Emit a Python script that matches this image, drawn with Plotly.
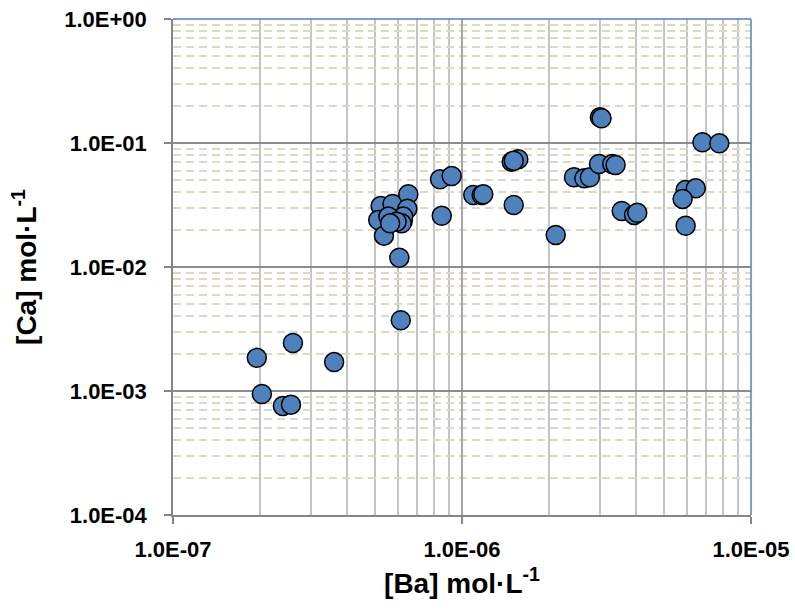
import plotly.graph_objects as go

# [Ba] mol/L
ba = [
    1.95e-7, 2.03e-7, 2.60e-7, 3.61e-7, 2.40e-7, 2.56e-7,
    5.23e-7, 5.75e-7, 6.52e-7, 6.47e-7, 5.13e-7, 5.82e-7, 6.24e-7, 5.37e-7,
    6.26e-7, 6.18e-7, 5.56e-7, 5.94e-7, 5.64e-7,
    6.07e-7, 6.14e-7, 8.39e-7, 9.21e-7, 8.51e-7,
    3.00e-6, 3.04e-6, 6.79e-6, 7.77e-6,
    1.486e-6, 1.566e-6, 1.51e-6,
    1.094e-6, 1.17e-6, 1.185e-6, 1.51e-6, 2.11e-6,
    2.44e-6, 2.65e-6, 2.77e-6, 2.98e-6, 3.31e-6, 3.40e-6,
    3.57e-6, 3.94e-6, 4.04e-6,
    5.94e-6, 6.44e-6, 5.80e-6, 5.94e-6,
]
# [Ca] mol/L
ca = [
    1.85e-3, 9.46e-4, 2.44e-3, 1.71e-3, 7.57e-4, 7.76e-4,
    3.10e-2, 3.22e-2, 3.86e-2, 2.95e-2, 2.39e-2, 2.39e-2, 2.35e-2, 1.79e-2,
    2.55e-2, 2.25e-2, 2.55e-2, 2.32e-2, 2.25e-2,
    1.19e-2, 3.72e-3, 5.09e-2, 5.42e-2, 2.59e-2,
    0.161, 0.158, 0.1013, 0.0994,
    7.07e-2, 7.39e-2, 7.2e-2,
    3.81e-2, 3.81e-2, 3.86e-2, 3.16e-2, 1.81e-2,
    5.29e-2, 5.19e-2, 5.29e-2, 6.77e-2, 6.77e-2, 6.65e-2,
    2.83e-2, 2.63e-2, 2.74e-2,
    4.18e-2, 4.31e-2, 3.54e-2, 2.15e-2,
]

x_tickvals = [1e-7, 1e-6, 1e-5]
x_ticktext = ["1.0E-07", "1.0E-06", "1.0E-05"]
y_tickvals = [1e-4, 1e-3, 1e-2, 1e-1, 1e0]
y_ticktext = ["1.0E-04", "1.0E-03", "1.0E-02", "1.0E-01", "1.0E+00"]

FONT = "Liberation Sans"

fig = go.Figure()
fig.add_trace(go.Scatter(
    x=ba, y=ca, mode="markers",
    marker=dict(size=19, color="#4f81bd", line=dict(color="black", width=1.5)),
    showlegend=False, cliponaxis=False,
))

fig.update_layout(
    width=795, height=611,
    margin=dict(l=173, r=44, t=19, b=96),
    paper_bgcolor="white", plot_bgcolor="white",
    font=dict(family=FONT, color="black"),
    xaxis=dict(
        type="log", range=[-7, -5], automargin=False,
        tickvals=x_tickvals, ticktext=x_ticktext,
        tickfont=dict(size=22, family=FONT, color="black", weight="bold"),
        ticks="outside", ticklen=7, tickcolor="#868686", tickwidth=1.5,
        ticklabelstandoff=7, ticklabeloverflow="allow",
        showline=True, linecolor="#868686", linewidth=1.5,
        showgrid=True, gridcolor="#a6a6a6", gridwidth=1.5,
        minor=dict(dtick="D1", showgrid=True, gridcolor="#c4c4c4", gridwidth=1.5, ticks=""),
        zeroline=False,
        title=dict(text="<b>[Ba] mol·L<sup>-1</sup></b>", font=dict(size=28, family=FONT, color="black"), standoff=12),
    ),
    yaxis=dict(
        type="log", range=[-4, 0], automargin=False,
        tickvals=y_tickvals, ticktext=y_ticktext,
        tickfont=dict(size=22, family=FONT, color="black", weight="bold"),
        ticks="outside", ticklen=7, tickcolor="#868686", tickwidth=1.5,
        ticklabelstandoff=13, ticklabeloverflow="allow",
        showline=True, linecolor="#868686", linewidth=1.5,
        showgrid=True, gridcolor="#8c8c8c", gridwidth=1.5,
        minor=dict(dtick="D1", showgrid=True, gridcolor="#ddd9c3", gridwidth=2, griddash="8px,5px", ticks=""),
        zeroline=False,
        title=dict(text="<b>[Ca] mol·L<sup>-1</sup></b>", font=dict(size=28, family=FONT, color="black"), standoff=19),
    ),
    shapes=[
        dict(type="line", xref="paper", yref="paper", x0=0, x1=1, y0=1, y1=1,
             line=dict(color="#4f81bd", width=1.5), layer="above"),
        dict(type="line", xref="paper", yref="paper", x0=1, x1=1, y0=0, y1=1,
             line=dict(color="#4f81bd", width=1.5), layer="above"),
    ],
)

fig.write_html(
    "out.html",
    config={"displayModeBar": False},
    post_script="document.body.style.margin='0';document.body.style.overflow='hidden';",
)
